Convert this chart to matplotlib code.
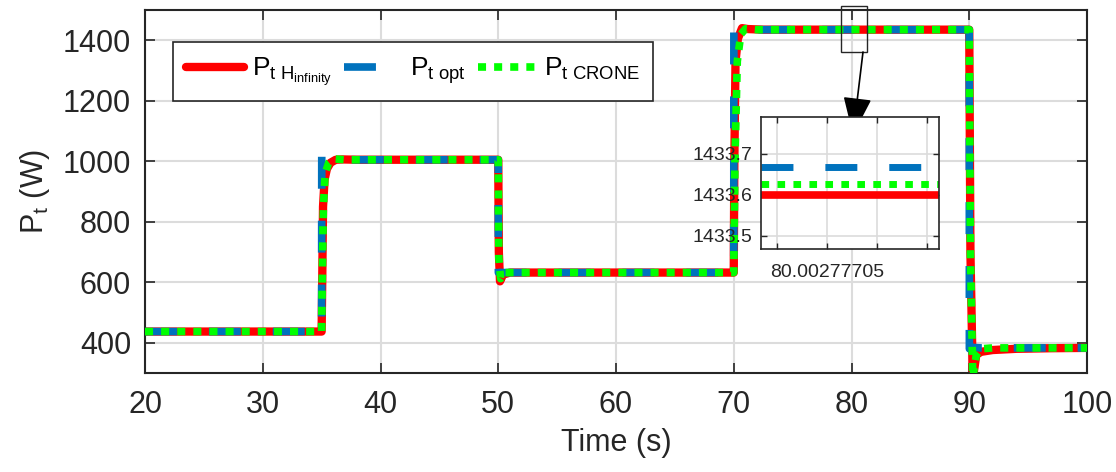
import numpy as np
import matplotlib
matplotlib.use("Agg")
import matplotlib.pyplot as plt
from matplotlib.patches import Rectangle

plt.rcParams['font.family'] = ['Liberation Sans', 'DejaVu Sans']
plt.rcParams['mathtext.fontset'] = 'custom'
plt.rcParams['mathtext.rm'] = 'Liberation Sans'
plt.rcParams['mathtext.it'] = 'Liberation Sans'
plt.rcParams['lines.scale_dashes'] = False

# ---- data ----
t_hinf = [20, 35.0, 35.05, 35.12, 35.25, 35.45, 35.75, 36.2, 36.8, 38, 50.0, 50.05, 50.15, 50.4, 51,
          70.0, 70.05, 70.15, 70.35, 70.7, 71.2, 72.5, 90.0, 90.1, 90.3, 90.6, 91, 92, 94, 97, 100]
p_hinf = [437, 437, 600, 850, 940, 975, 995, 1005, 1006, 1005, 1005, 700, 603, 625, 632,
          632, 1000, 1330, 1405, 1440, 1437, 1435, 1435, 700, 280, 360, 370, 376, 380, 382, 383]

t_opt = [20, 35.0, 35.01, 35.15, 36, 50.0, 50.01, 70.0, 70.01, 70.15, 71, 90.0, 90.01, 90.15, 91, 100]
p_opt = [437, 437, 1015, 1005, 1005, 1005, 632, 632, 1445, 1436, 1435, 1435, 380, 385, 383, 383]

t_crone = [20, 35.0, 35.05, 35.15, 35.3, 35.6, 36, 37, 50.0, 50.05, 50.2, 50.5, 70.0, 70.1, 70.3,
           70.6, 71, 72, 90.0, 90.1, 90.3, 90.6, 91, 92, 100]
p_crone = [437, 437, 600, 850, 960, 995, 1008, 1005, 1005, 680, 612, 632, 632, 1000, 1330,
           1420, 1438, 1435, 1435, 700, 285, 360, 380, 383, 383]

# zoomed view around t = 80 s
t_zoom = [80.002776984, 80.0027772]
p_zoom_hinf = [1433.600, 1433.600]
p_zoom_opt = [1433.668, 1433.668]
p_zoom_crone = [1433.626, 1433.626]
zoom_ticks = [80.002777, 80.00277705, 80.0027771, 80.00277715]
zoom_ticklabels = ['', '80.00277705', '', '']

labels = [r'$\mathregular{P_{t\ H_{infinity}}}$', r'$\mathregular{P_{t\ opt}}$',
          r'$\mathregular{P_{t\ CRONE}}$']

RED = '#ff0000'
BLUE = '#0072bd'
GREEN = '#00ff00'
TXT = '#262626'

W, H = 1116, 472
fig = plt.figure(figsize=(W / 100, H / 100), dpi=100)
ax = fig.add_axes([145 / W, 1 - 373 / H, 942 / W, 363 / H])

l1, = ax.plot(t_hinf, p_hinf, color=RED, lw=6, solid_capstyle='round', zorder=2)
l2, = ax.plot(t_opt, p_opt, color=BLUE, lw=5.5, dashes=(23, 23), dash_capstyle='butt', zorder=3)
l3, = ax.plot(t_crone, p_crone, color=GREEN, lw=5.5, dashes=(5.8, 5.8), dash_capstyle='butt', zorder=4)

ax.set_xlim(20, 100)
ax.set_ylim(300, 1500)
ax.set_xticks(np.arange(20, 101, 10))
ax.set_yticks(np.arange(400, 1401, 200))
ax.grid(True, color='#dcdcdc', lw=1.5)
ax.set_axisbelow(True)
ax.tick_params(direction='in', length=7, width=1.2, top=True, right=True, colors=TXT,
               labelsize=22)
ax.tick_params(axis='x', pad=12)
ax.tick_params(axis='y', pad=10)
for s in ax.spines.values():
    s.set_color(TXT)
    s.set_linewidth(1.5)
ax.set_xlabel('Time (s)', fontsize=22, color=TXT, labelpad=6)
ax.set_ylabel(r'$\mathregular{P_t}$ (W)', fontsize=22, color=TXT, labelpad=8)

leg = ax.legend([l1, l2, l3], labels, ncol=3, loc='upper left', bbox_to_anchor=(28 / 942, 1 - 32 / 363),
                borderaxespad=0, fontsize=19, frameon=True, fancybox=False, edgecolor=TXT,
                framealpha=1, handlelength=2.2, handletextpad=0.3, columnspacing=0.45, borderpad=0.5)
leg.get_frame().set_linewidth(1.2)

# zoom box on main axes
ax.add_patch(Rectangle((79.08, 1361), 2.26, 151, fill=False, edgecolor=TXT, lw=1,
                       clip_on=False, zorder=6))

# inset
ins = fig.add_axes([761 / W, 1 - 249 / H, 178 / W, 132 / H], zorder=5)
ins.plot(t_zoom, p_zoom_hinf, color=RED, lw=5.5)
ins.plot(t_zoom, p_zoom_opt, color=BLUE, lw=5, dashes=(23, 23), dash_capstyle='butt')
ins.plot(t_zoom, p_zoom_crone, color=GREEN, lw=5, dashes=(5.5, 6), dash_capstyle='butt')
d = 5e-8
ins.set_xlim(zoom_ticks[0] - 0.32 * d, zoom_ticks[0] + 3.24 * d)
ins.set_ylim(1433.468, 1433.79)
ins.set_xticks(zoom_ticks)
ins.set_xticklabels(zoom_ticklabels)
ins.set_yticks([1433.5, 1433.6, 1433.7])
ins.set_yticklabels(['1433.5', '1433.6', '1433.7'])
ins.grid(True, color='#dcdcdc', lw=1.2)
ins.set_axisbelow(True)
ins.tick_params(direction='in', length=4, width=1, top=True, right=True, colors=TXT, labelsize=14,
                pad=6)
ins.tick_params(axis='x', pad=11)
for s in ins.spines.values():
    s.set_color(TXT)
    s.set_linewidth(1.2)

# arrow from the zoom box to the inset
fig.add_artist(plt.Annotation('', xy=(853, H - 135), xycoords='figure pixels',
                              xytext=(863, H - 52), textcoords='figure pixels',
                              arrowprops=dict(arrowstyle='-|>,head_length=1.2,head_width=0.45',
                                              color='black', lw=1.2, mutation_scale=20,
                                              shrinkA=0, shrinkB=0)))

fig.savefig('out.png', dpi=100)
